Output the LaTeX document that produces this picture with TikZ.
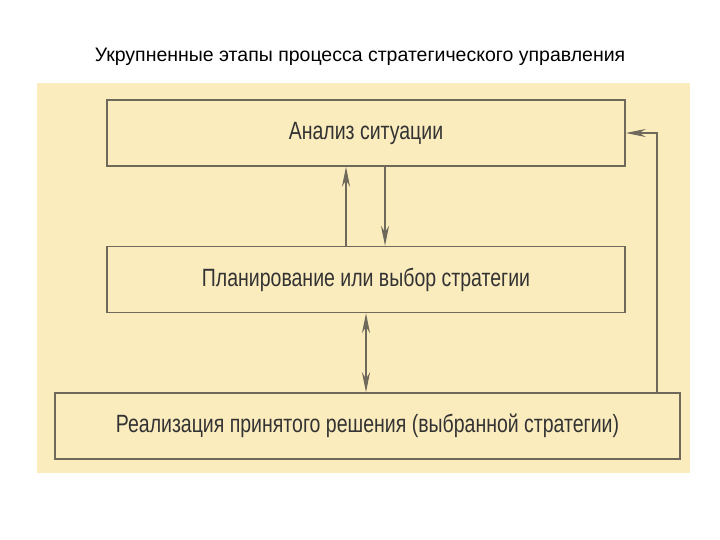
\documentclass[tikz,border=0pt]{standalone}
\usepackage{fontspec}
\setmainfont{Liberation Sans}
\usetikzlibrary{arrows.meta}
\definecolor{bgy}{RGB}{251,236,190}
\definecolor{edge}{RGB}{110,105,90}
\tikzset{
  stage/.style={draw=edge,line width=1.5pt,fill=bgy,minimum height=66pt,inner sep=0pt},
  lbl/.style={font=\fontsize{25}{28}\selectfont,text=black!80,xscale=0.78},
  conn/.style={draw=edge,line width=1.2pt,-{Stealth[length=20pt,width=8pt]}}
}
\begin{document}
\begin{tikzpicture}[x=1pt,y=-1pt]
\useasboundingbox (0,0) rectangle (720,540);
\fill[white] (0,0) rectangle (720,540);
\node (title) at (360,57) {\fontsize{19.5}{22}\selectfont Укрупненные этапы процесса стратегического управления};
\fill[bgy] (37,83) rectangle (690,473);
\node[stage,minimum width=518pt] (b1) at (366,133) {};
\node[lbl] at (b1) {Анализ ситуации};
\node[stage,minimum width=518pt] (b2) at (366,279.5) {};
\node[lbl] at (b2) {Планирование или выбор стратегии};
\node[stage,minimum width=625pt] (b3) at (367.5,426) {};
\node[lbl] at (b3) {Реализация принятого решения (выбранной стратегии)};
\draw[conn] (b2.north -| 346,0) -- (b1.south -| 346,0);
\draw[conn] (b1.south -| 385,0) -- (b2.north -| 385,0);
\draw[conn,{Stealth[length=20pt,width=8pt]}-{Stealth[length=20pt,width=8pt]}] (b2.south -| 366,0) -- (b3.north -| 366,0);
\coordinate (c) at (657,133);
\draw[conn] (b3.north -| c) -- (c) -- (b1.east);
\end{tikzpicture}
\end{document}
